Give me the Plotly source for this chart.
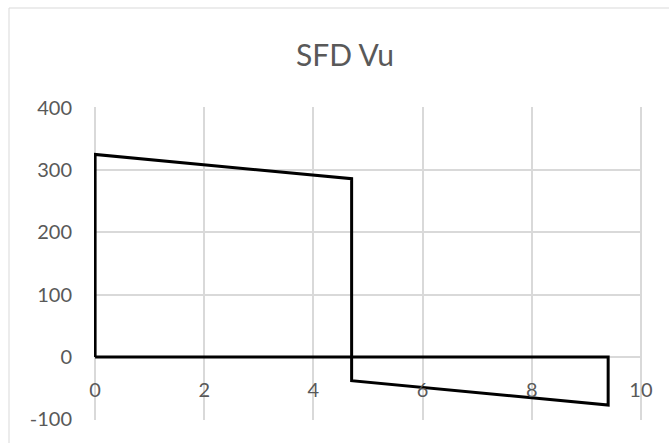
import plotly.graph_objects as go

# Shear force diagram outline: distance along beam (m) and factored shear Vu (kN)
x_pos = [0, 0, 4.7, 4.7, 9.4, 9.4, 0]
shear_vu = [0, 325, 286, -38, -77, 0, 0]

x_ticks = [0, 2, 4, 6, 8, 10]
y_ticks = [-100, 0, 100, 200, 300, 400]
y_tick_text = ["-100", "0", "100", "200", "300", "400"]

W, H = 669, 443
L, R, T, B = 94, 27, 107, 23
plot_h = H - T - B

grid = "#d9d9d9"
label = "#595959"
font = "Lato, 'Open Sans', sans-serif"

fig = go.Figure()
fig.add_trace(go.Scatter(
    x=x_pos, y=shear_vu, mode="lines",
    line=dict(color="black", width=3),
    showlegend=False, hoverinfo="skip",
))

# x axis labels sit beside the y=0 line
zero_frac = (0 - y_ticks[0]) / (y_ticks[-1] - y_ticks[0])

fig.update_layout(
    width=W, height=H,
    margin=dict(l=L, r=R, t=T, b=B),
    paper_bgcolor="white", plot_bgcolor="white",
    title=dict(text="SFD Vu", x=345 / W, xanchor="center",
               y=1 - 55 / H, yanchor="middle",
               font=dict(family=font, size=30, color=label)),
    xaxis=dict(range=[-0.02, 10.02], tickvals=x_ticks, showgrid=True, gridcolor=grid,
               gridwidth=2, zeroline=False, showline=False,
               anchor="free", position=zero_frac, ticks="",
               ticklabelstandoff=19,
               tickfont=dict(family=font, size=20, color=label)),
    yaxis=dict(range=[-101, 401], tickvals=y_ticks, ticktext=y_tick_text,
               showgrid=True, gridcolor=grid,
               gridwidth=2, zeroline=False, showline=False, ticks="",
               ticklabelstandoff=21,
               tickfont=dict(family=font, size=20, color=label)),
)

# chart-area frame
fig.add_shape(type="rect", xref="paper", yref="paper",
              x0=(9 - L) / (W - L - R), x1=1.2,
              y0=-0.3, y1=(H - B - 8) / plot_h,
              line=dict(color="#d9d9d9", width=1), layer="below")

fig.write_html("out.html")
